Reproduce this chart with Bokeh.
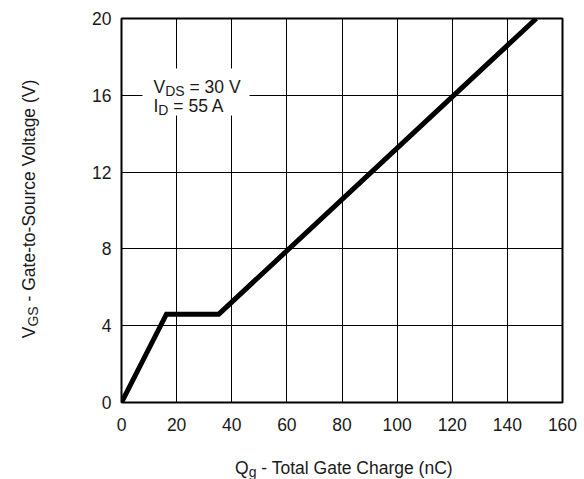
import math
from bokeh.plotting import figure
from bokeh.layouts import row, column
from bokeh.models import Label, BoxAnnotation, FixedTicker, Range1d
from bokeh.embed import file_html
from bokeh.resources import INLINE

# ---- data ----
qg_nc = [0, 16.3, 35.3, 150.5]
vgs_v = [0, 4.6, 4.6, 20]
x_ticks = [0, 20, 40, 60, 80, 100, 120, 140, 160]
y_ticks = [0, 4, 8, 12, 16, 20]

FONT = "Liberation Sans"
MAIN = 17.5
SUB = 14
TXT = "#1a1a1a"
NB = "\u00a0"

PW, PH = 584, 479
LW = 50
BH = 35
FW, FH = 441, 384
XMIN, XMAX, YMIN, YMAX = 0, 160, 0, 20
PX_X = FW / (XMAX - XMIN)
PX_Y = FH / (YMAX - YMIN)
L0, T0 = 121, 18
B0 = T0 + FH

MW, MH = PW - LW, PH - BH
p = figure(width=MW, height=MH, output_backend="svg", toolbar_location=None,
           title=None,
           x_range=Range1d(XMIN, XMAX), y_range=Range1d(YMIN, YMAX),
           min_border_left=L0 - LW, min_border_right=MW - (L0 - LW) - FW, min_border_top=T0,
           min_border_bottom=MH - B0)
p.background_fill_color = "white"
p.border_fill_color = "white"
p.outline_line_color = "black"
p.outline_line_width = 2

for ax in (p.xaxis[0], p.yaxis[0]):
    ax.axis_line_color = None
    ax.major_tick_line_color = None
    ax.minor_tick_line_color = None
    ax.major_tick_out = 0
    ax.major_tick_in = 0
    ax.minor_tick_out = 0
    ax.major_label_text_font = FONT
    ax.major_label_text_font_size = f"{MAIN}px"
    ax.major_label_text_color = TXT
    ax.axis_label = None
p.xaxis[0].ticker = FixedTicker(ticks=x_ticks)
p.yaxis[0].ticker = FixedTicker(ticks=y_ticks)
p.xaxis[0].major_label_standoff = 15
p.yaxis[0].major_label_standoff = 10

p.xgrid[0].ticker = FixedTicker(ticks=x_ticks)
p.ygrid[0].ticker = FixedTicker(ticks=y_ticks)
for g in (p.xgrid[0], p.ygrid[0]):
    g.grid_line_color = "black"
    g.grid_line_width = 1
    g.grid_line_alpha = 1.0

p.line(qg_nc, vgs_v, line_color="black", line_width=5, line_join="miter")

# Arial / Liberation Sans advance widths (1/1000 em)
W = {" ": 278, NB: 278, "-": 333, "(": 333, ")": 333, "=": 584, "A": 667, "C": 722, "D": 722,
     "G": 778, "I": 278, "Q": 778, "S": 667, "T": 611, "V": 667, "a": 556, "c": 500,
     "e": 556, "g": 556, "h": 556, "l": 222, "n": 556, "o": 556, "r": 333, "t": 278, "u": 556}
for d in "0123456789":
    W[d] = 556


def tw(s, size):
    return sum(W.get(c, 556) for c in s) / 1000.0 * size


def put_rich(fig, pieces, x0, base, sx_per, sy_per, angle=0.0):
    """pieces: (text, size, drop_px); x0/base in data-px (y up)."""
    pos = 0.0
    for text, size, drop in pieces:
        if angle == 0.0:
            sx, sy = x0 + pos, base - drop
        else:
            sx, sy = x0 + drop, base + pos
        fig.add_layout(Label(x=sx / sx_per, y=sy / sy_per, text=text,
                             text_font=FONT, text_font_size=f"{size}px", text_color=TXT,
                             text_align="left", text_baseline="alphabetic", angle=angle))
        pos += tw(text, size)


# white box behind the condition text
p.add_layout(BoxAnnotation(left=(142 - L0) / PX_X, right=(249 - L0) / PX_X,
                           bottom=(B0 - 115) / PX_Y, top=(B0 - 68) / PX_Y,
                           fill_color="white", fill_alpha=1.0, line_color=None, level="annotation"))

put_rich(p, [("V", MAIN, 0), ("DS", SUB, 4), (NB + "= 30 V", MAIN, 0)],
         153 - L0, B0 - 86, PX_X, PX_Y)
put_rich(p, [("I", MAIN, 0), ("D", SUB, 4), (NB + "= 55 A", MAIN, 0)],
         153 - L0, B0 - 105, PX_X, PX_Y)


def strip(w, h, xr, yr):
    f = figure(width=w, height=h, output_backend="svg", toolbar_location=None,
               title=None, x_axis_type=None, y_axis_type=None,
               x_range=Range1d(*xr), y_range=Range1d(*yr),
               min_border=0, min_border_left=0, min_border_right=0,
               min_border_top=0, min_border_bottom=0)
    f.outline_line_color = None
    f.background_fill_color = "white"
    f.border_fill_color = "white"
    return f


# y-axis title strip (left, full height); data units = picture px
left = strip(LW, PH, (0, LW), (0, PH))
yt = [("V", MAIN, 0), ("GS", SUB, 4), (NB + "- Gate-to-Source Voltage (V)", MAIN, 0)]
yw = sum(tw(t, s) for t, s, _ in yt)
put_rich(left, yt, 28, (PH - 208) - yw / 2, 1.0, 1.0, angle=math.pi / 2)

# x-axis title strip: its frame is aligned with the main frame (x = picture px)
bottom = strip(MW, BH, (L0, L0 + FW), (0, BH))
xt = [("Q", MAIN, 0), ("g", SUB, 4), (NB + "- Total Gate Charge (nC)", MAIN, 0)]
xw = sum(tw(t, s) for t, s, _ in xt)
put_rich(bottom, xt, 344.5 - xw / 2, 12, 1.0, 1.0)

layout = row(left, column(p, bottom, spacing=0), spacing=0)
open("out.html", "w").write(file_html(layout, INLINE))
